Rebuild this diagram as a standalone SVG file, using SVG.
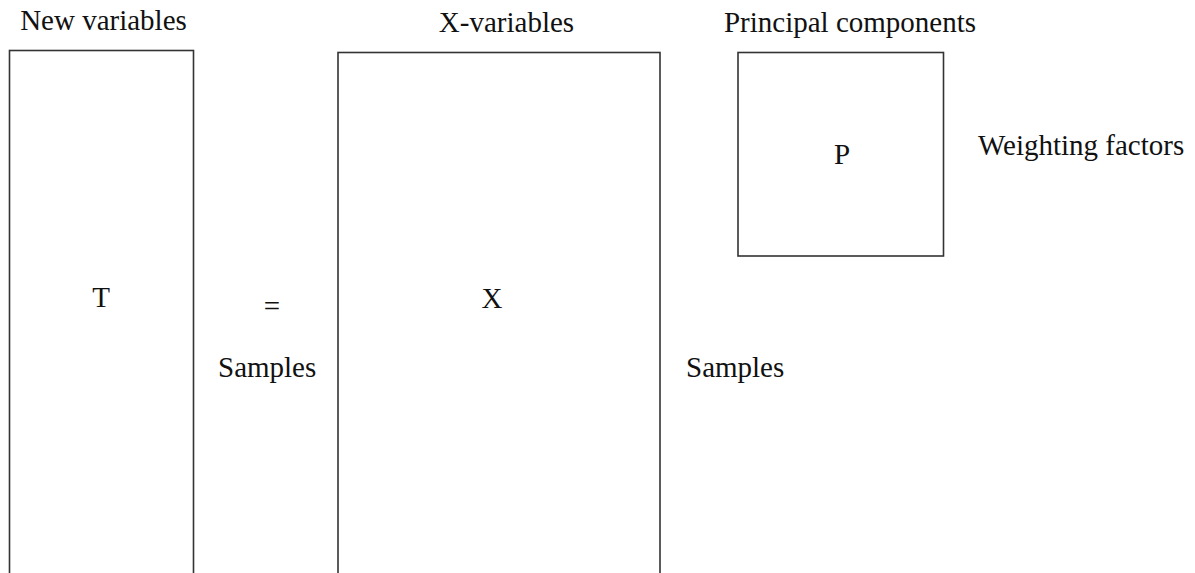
<svg xmlns="http://www.w3.org/2000/svg" width="1195" height="573" viewBox="0 0 1195 573">
<style>
.box{fill:#fff;stroke:#333;stroke-width:1.6}
.t{font-family:'Liberation Serif', 'Times New Roman', Tinos, 'DejaVu Serif', serif;font-size:29px;fill:#111}
.c{text-anchor:middle}
</style>
<rect width="1195" height="573" fill="#fff"/>
<g id="connectors"></g>
<g id="T">
<rect class="box" x="9.5" y="50.5" width="184" height="540"/>
<text class="t c" x="101" y="307">T</text>
</g>
<g id="X">
<rect class="box" x="338" y="52.5" width="322" height="540"/>
<text class="t c" x="492" y="308">X</text>
</g>
<g id="P">
<rect class="box" x="738" y="52.5" width="205.5" height="203.5"/>
<text class="t c" x="842" y="164">P</text>
</g>
<g id="labels">
<text class="t c" x="103.5" y="30">New variables</text>
<text class="t c" x="506.5" y="32">X-variables</text>
<text class="t c" x="850" y="32">Principal components</text>
<text class="t" x="978" y="155">Weighting factors</text>
<text class="t c" x="272" y="316">=</text>
<text class="t" x="218" y="377">Samples</text>
<text class="t" x="686" y="377">Samples</text>
</g>
</svg>
